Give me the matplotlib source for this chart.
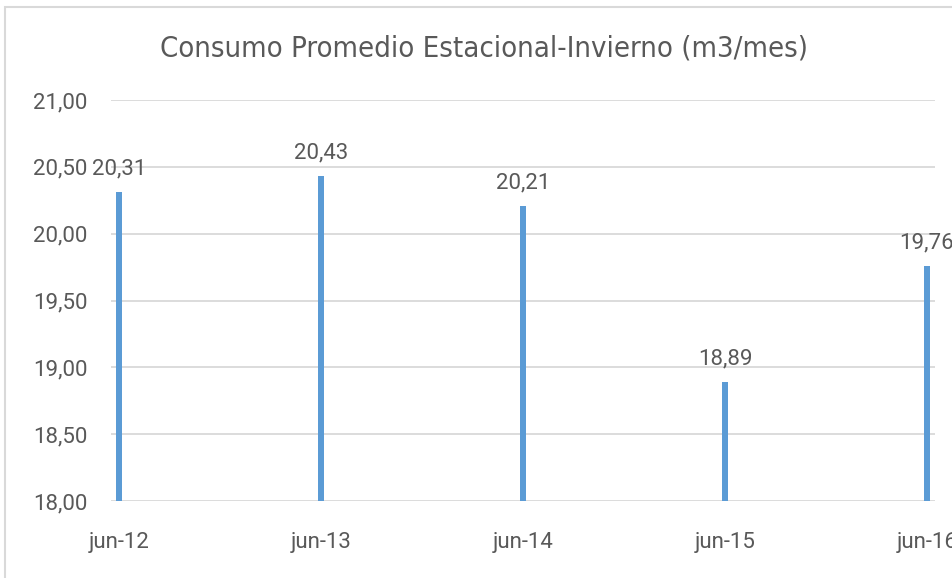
import numpy as np
import matplotlib.pyplot as plt
from matplotlib.patches import Rectangle

# data
labels = ['jun-12', 'jun-13', 'jun-14', 'jun-15', 'jun-16']
consumo = [20.31, 20.43, 20.21, 18.89, 19.76]
yticks = [18.0, 18.5, 19.0, 19.5, 20.0, 20.5, 21.0]

text_col = '#595959'
grid_col = '#D9D9D9'
bar_col = '#5B9BD5'

fig = plt.figure(figsize=(9.53, 5.78), dpi=100)
ax = fig.add_axes([111 / 953, 1 - 501 / 578, 824 / 953, 401 / 578])

x = np.arange(len(labels))
ax.bar(x, np.array(consumo) - 18, bottom=18, width=0.026, color=bar_col, zorder=3)

for xi, v in zip(x, consumo):
    ax.annotate(f'{v:.2f}'.replace('.', ','), (xi, v), xytext=(0, 9),
                textcoords='offset points', ha='center', va='bottom',
                fontsize=16, color=text_col, family='Roboto', annotation_clip=False)

ax.set_ylim(18, 21)
ax.set_xlim(-0.04, 4.04)
ax.set_yticks(yticks)
ax.set_yticklabels([f'{t:.2f}'.replace('.', ',') for t in yticks])
ax.set_xticks(x)
ax.set_xticklabels(labels)
ax.tick_params(axis='both', length=0, labelsize=16, labelcolor=text_col)
ax.tick_params(axis='y', pad=17)
ax.tick_params(axis='x', pad=22)
for lab in ax.get_xticklabels() + ax.get_yticklabels():
    lab.set_family('Roboto')
ax.grid(axis='y', color=grid_col, linewidth=1.3, zorder=0)
for s in ax.spines.values():
    s.set_visible(False)

fig.text(484 / 953, 1 - 48 / 578, 'Consumo Promedio Estacional-Invierno (m3/mes)',
         ha='center', va='center', fontsize=21, color=text_col,
         family='DejaVu Sans', fontstretch='condensed')

# chart border, running off the right and bottom edges
fig.patches.append(Rectangle((4.5 / 953, -0.1), 1.2, 1 - 7 / 578 + 0.1,
                             transform=fig.transFigure, fill=False,
                             edgecolor=grid_col, linewidth=1.5))

fig.savefig('out.png', dpi=100)
